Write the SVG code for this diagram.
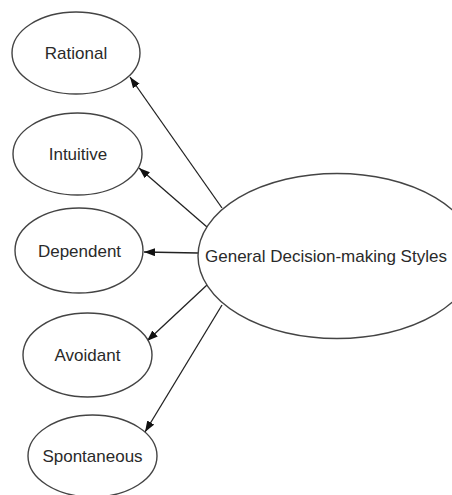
<svg xmlns="http://www.w3.org/2000/svg" width="452" height="495" viewBox="0 0 452 495">
  <style>
    .node ellipse { fill: #ffffff; stroke: #444444; stroke-width: 1.4; }
    .node text { font-family: "Liberation Sans", Arial, sans-serif; font-size: 17px; fill: #2a2a2a; text-anchor: middle; }
    #general text { font-size: 17px; text-anchor: start; }
    .edge { stroke: #222222; stroke-width: 1.3; fill: none; marker-end: url(#arrow); }
  </style>
  <defs>
    <marker id="arrow" markerUnits="userSpaceOnUse" markerWidth="12" markerHeight="9" refX="11" refY="4" orient="auto">
      <path d="M0,0 L11,4 L0,8 z" fill="#111111"/>
    </marker>
  </defs>
  <rect width="452" height="495" fill="#ffffff"/>

  <g id="connectors">
    <line class="edge" x1="222" y1="208" x2="130" y2="77"/>
    <line class="edge" x1="207" y1="227" x2="139" y2="168"/>
    <line class="edge" x1="198" y1="253" x2="144" y2="252"/>
    <line class="edge" x1="207" y1="285" x2="147" y2="341"/>
    <line class="edge" x1="222" y1="305" x2="145" y2="432"/>
  </g>

  <g id="rational" class="node">
    <ellipse cx="76" cy="53" rx="64" ry="41"/>
    <text x="76" y="59">Rational</text>
  </g>
  <g id="intuitive" class="node">
    <ellipse cx="77.5" cy="154" rx="64.5" ry="41"/>
    <text x="78" y="160">Intuitive</text>
  </g>
  <g id="dependent" class="node">
    <ellipse cx="79" cy="250.5" rx="64" ry="42.5"/>
    <text x="79.5" y="257">Dependent</text>
  </g>
  <g id="avoidant" class="node">
    <ellipse cx="87.5" cy="355" rx="64.5" ry="42"/>
    <text x="87.5" y="361">Avoidant</text>
  </g>
  <g id="spontaneous" class="node">
    <ellipse cx="92.5" cy="456" rx="64.5" ry="41"/>
    <text x="92.5" y="462">Spontaneous</text>
  </g>
  <g id="general" class="node">
    <ellipse cx="337" cy="256" rx="139" ry="82.5"/>
    <text x="205" y="262">General Decision-making Styles</text>
  </g>
</svg>
